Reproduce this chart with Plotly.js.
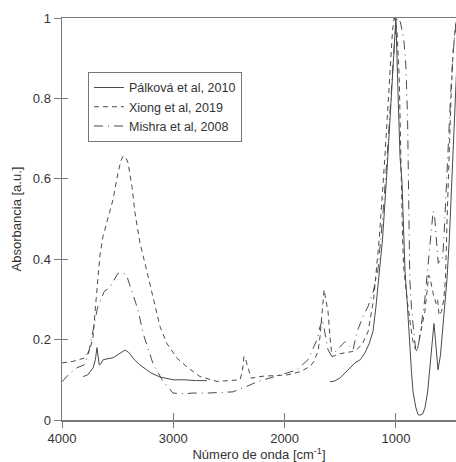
<!DOCTYPE html>
<html><head><meta charset="utf-8">
<script src="https://cdn.plot.ly/plotly-3.0.1.min.js"></script>
<style>html,body{margin:0;padding:0;background:#fff}#chart{width:456px;height:462px}</style>
</head><body><div id="chart"></div>
<script>
// Pálková et al, 2010 (solid) — gap between 2700 and 1592
const palkovaX = [3810,3770,3720,3700,3686,3675,3665,3650,3630,3540,3480,3434,3400,3350,3300,3200,3120,3000,2900,2800,2700,null,1592,1550,1500,1457,1400,1368,1320,1278,1240,1206,1180,1150,1120,1080,1040,1010,1000,985,963,945,918,900,880,860,846,820,800,784,760,739,715,694,670,658,645,622,600,577,555,541,520,500,480,460,450];
const palkovaY = [0.108,0.112,0.13,0.15,0.18,0.15,0.137,0.14,0.15,0.155,0.166,0.174,0.168,0.15,0.137,0.117,0.107,0.10,0.10,0.098,0.098,null,0.095,0.097,0.105,0.117,0.135,0.142,0.15,0.167,0.19,0.22,0.28,0.36,0.45,0.62,0.82,0.97,1.0,0.85,0.655,0.59,0.37,0.3,0.2,0.12,0.07,0.03,0.013,0.012,0.015,0.03,0.07,0.13,0.2,0.24,0.2,0.125,0.16,0.23,0.3,0.35,0.45,0.58,0.7,0.82,0.9];

// Xiong et al, 2019 (dashed)
const xiongX = [4000,3900,3800,3766,3740,3721,3703,3680,3659,3632,3590,3542,3497,3470,3452,3430,3407,3371,3344,3317,3299,3240,3182,3119,3057,2967,2877,2760,2607,2480,2401,2380,2365,2350,2329,2300,2194,1978,1862,1780,1745,1700,1682,1660,1645,1630,1610,1590,1574,1550,1500,1400,1350,1300,1250,1200,1150,1100,1060,1030,1015,1000,990,970,960,950,940,930,900,870,850,830,810,790,760,740,720,705,690,670,640,625,612,590,570,555,540,525,505,485,465,450];
const xiongY = [0.142,0.146,0.154,0.167,0.185,0.207,0.27,0.35,0.41,0.456,0.5,0.548,0.615,0.645,0.656,0.655,0.64,0.58,0.515,0.465,0.44,0.373,0.307,0.232,0.19,0.154,0.132,0.108,0.096,0.099,0.1,0.12,0.158,0.15,0.133,0.104,0.109,0.112,0.12,0.132,0.142,0.17,0.207,0.27,0.324,0.3,0.27,0.2,0.158,0.16,0.165,0.17,0.175,0.19,0.22,0.3,0.45,0.65,0.85,0.97,1.0,0.98,0.97,0.85,0.7,0.55,0.45,0.38,0.3,0.24,0.2,0.18,0.17,0.2,0.24,0.27,0.32,0.36,0.35,0.32,0.29,0.3,0.26,0.27,0.3,0.35,0.5,0.65,0.8,0.92,0.98,1.0];

// Mishra et al, 2008 (dash-dot)
const mishraX = [4000,3928,3865,3802,3766,3720,3680,3620,3569,3497,3452,3420,3371,3317,3272,3182,3100,3048,3003,2900,2832,2697,2607,2464,2311,2248,1978,1888,1790,1709,1682,1660,1640,1610,1580,1529,1457,1420,1385,1349,1295,1251,1206,1161,1120,1080,1040,1010,990,960,930,910,895,885,880,875,860,840,820,800,780,760,740,720,700,680,665,650,635,620,600,580,560,545,530,510,490,470,455];
const mishraY = [0.095,0.117,0.13,0.137,0.16,0.22,0.28,0.32,0.33,0.365,0.365,0.36,0.32,0.274,0.216,0.14,0.1,0.083,0.067,0.065,0.067,0.067,0.068,0.07,0.087,0.095,0.117,0.125,0.15,0.2,0.232,0.25,0.22,0.175,0.16,0.175,0.195,0.185,0.175,0.22,0.257,0.282,0.316,0.374,0.5,0.65,0.82,0.95,1.0,0.99,0.95,0.88,0.75,0.6,0.45,0.35,0.28,0.22,0.17,0.18,0.22,0.26,0.3,0.36,0.42,0.47,0.52,0.5,0.43,0.39,0.4,0.4,0.5,0.6,0.7,0.8,0.9,0.97,1.0];

const seriesNames = ["Pálková et al, 2010", "Xiong et al, 2019", "Mishra et al, 2008"];
const xTicks = [4000, 3000, 2000, 1000];
const yTicks = [0, 0.2, 0.4, 0.6, 0.8, 1];

const lineColor = "#4a4a4a";
const traces = [
  {x: palkovaX, y: palkovaY, name: seriesNames[0], mode: "lines", connectgaps: false,
   line: {color: lineColor, width: 1, dash: "solid"}},
  {x: xiongX, y: xiongY, name: seriesNames[1], mode: "lines",
   line: {color: lineColor, width: 1, dash: "5px,4px"}},
  {x: mishraX, y: mishraY, name: seriesNames[2], mode: "lines",
   line: {color: lineColor, width: 1, dash: "9px,5px,1px,5px"}}
];
// invisible helper trace to activate the inside-tick overlay axes
traces.push({x: [4000], y: [0], xaxis: "x2", yaxis: "y2", mode: "markers",
  marker: {opacity: 0}, showlegend: false, hoverinfo: "skip"});

const font = {family: "Liberation Sans, Arial, sans-serif", size: 13, color: "#333"};
const axisColor = "#7a7a7a";
const layout = {
  width: 456, height: 462,
  margin: {l: 62, r: 0, t: 18, b: 42},
  paper_bgcolor: "#fff", plot_bgcolor: "#fff",
  font: font,
  showlegend: true,
  legend: {x: 0.066, y: 0.866, xanchor: "left", yanchor: "top",
    bgcolor: "#fff", bordercolor: "#777", borderwidth: 1,
    font: {family: font.family, size: 12.5, color: "#333"}, tracegroupgap: 0},
  xaxis: {range: [4000, 460], tickvals: xTicks, ticktext: xTicks.map(String),
    showgrid: false, zeroline: false, showline: true, linecolor: axisColor, linewidth: 1.5,
    mirror: true, ticks: "outside", ticklen: 6, tickcolor: axisColor, tickwidth: 1,
    tickfont: font,
    title: {text: "Número de onda [cm<sup>-1</sup>]", font: font, standoff: 4}},
  yaxis: {range: [0, 1], tickvals: yTicks, ticktext: ["0","0.2","0.4","0.6","0.8","1"],
    showgrid: false, zeroline: false, showline: true, linecolor: axisColor, linewidth: 1.5,
    ticks: "outside", ticklen: 7, tickcolor: axisColor, tickwidth: 1,
    tickfont: font,
    title: {text: "Absorbancia [a.u.]", font: font, standoff: 8}},
  xaxis2: {overlaying: "x", range: [4000, 460], tickvals: xTicks, showticklabels: false,
    showgrid: false, zeroline: false, showline: false, ticks: "inside", ticklen: 7,
    tickcolor: axisColor, tickwidth: 1, side: "bottom", anchor: "y2"},
  yaxis2: {overlaying: "y", range: [0, 1], tickvals: yTicks, showticklabels: false,
    showgrid: false, zeroline: false, showline: false, ticks: "inside", ticklen: 6,
    tickcolor: axisColor, tickwidth: 1, side: "left", anchor: "x2"}
};
Plotly.newPlot("chart", traces, layout, {staticPlot: true, displayModeBar: false});
</script></body></html>
